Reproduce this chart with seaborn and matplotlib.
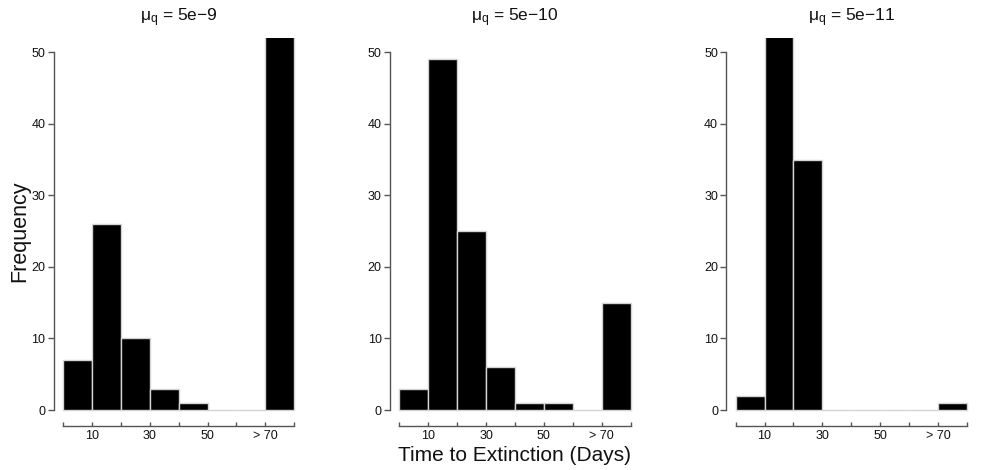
import numpy as np
import matplotlib
matplotlib.use("Agg")
import matplotlib.pyplot as plt
import seaborn as sns

# ===============================
# data: counts per 10-day bin (last bin = "> 70")
# ===============================
bin_edges = [0, 10, 20, 30, 40, 50, 60, 70, 80]
bin_mids = [5, 15, 25, 35, 45, 55, 65, 75]
titles = [r"$\mathregular{\mu_q}$ = 5e$-$9",
          r"$\mathregular{\mu_q}$ = 5e$-$10",
          r"$\mathregular{\mu_q}$ = 5e$-$11"]
counts_5e9 = [7, 26, 10, 3, 1, 0, 0, 53]
counts_5e10 = [3, 49, 25, 6, 1, 1, 0, 15]
counts_5e11 = [2, 62, 35, 0, 0, 0, 0, 1]
xtick_pos = [10, 30, 50, 70]
xtick_labels = ["10", "30", "50", "> 70"]
ytick_pos = [0, 10, 20, 30, 40, 50]

sns.set_style("white")
plt.rcParams['font.family'] = ['Liberation Sans', 'DejaVu Sans']
plt.rcParams['mathtext.fontset'] = 'custom'
plt.rcParams['mathtext.rm'] = 'Liberation Sans'
plt.rcParams['mathtext.it'] = 'Liberation Sans'
plt.rcParams['text.color'] = '#111111'
plt.rcParams['axes.labelcolor'] = '#111111'

fig = plt.figure(figsize=(9.82, 4.70), dpi=100)
lefts = [0.0548, 0.3972, 0.7397]
axes = [fig.add_axes([l, 0.0972, 0.2543, 0.822]) for l in lefts]

all_counts = [counts_5e9, counts_5e10, counts_5e11]
axis_col = "#555555"

for ax, counts, title in zip(axes, all_counts, titles):
    sns.histplot(x=bin_mids, weights=counts, bins=bin_edges, ax=ax,
                 color="black", alpha=1, edgecolor="#d4d4d4", linewidth=1.0)
    ax.set_xlim(-3.2, 83.2)
    ax.set_ylim(-2, 52)

    # R-style detached axes
    for s in ["top", "right"]:
        ax.spines[s].set_visible(False)
    ax.spines["left"].set_bounds(0, 50)
    ax.spines["bottom"].set_bounds(0, 80)
    ax.spines["bottom"].set_position(("outward", 1))
    for s in ["left", "bottom"]:
        ax.spines[s].set_color(axis_col)
        ax.spines[s].set_linewidth(1.0)

    ax.set_yticks(ytick_pos)
    ax.set_yticklabels([str(v) for v in ytick_pos])
    ax.set_xticks(bin_edges)
    ax.set_xticklabels([xtick_labels[xtick_pos.index(v)] if v in xtick_pos else ""
                        for v in bin_edges])
    ax.tick_params(axis="y", direction="out", length=4, width=1.0, color=axis_col,
                   labelsize=9, pad=2, left=True, labelcolor="#111111")
    ax.tick_params(axis="x", direction="in", length=3, width=1.0, color=axis_col,
                   labelsize=9, pad=3, bottom=True, labelcolor="#111111")
    ax.set_ylabel("")
    ax.set_xlabel("")
    ax.set_title(title, fontsize=12.5, pad=12)

axes[0].set_ylabel("Frequency", fontsize=15.5, labelpad=1)
axes[1].set_xlabel("Time to Extinction (Days)", fontsize=15, labelpad=3)

fig.savefig("out.png", dpi=100)
